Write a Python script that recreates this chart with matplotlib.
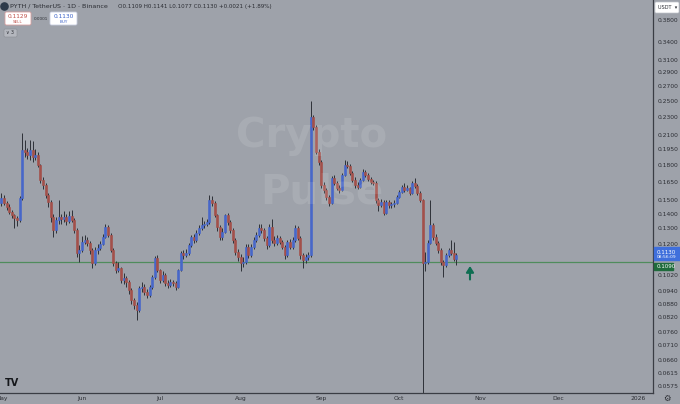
import matplotlib
matplotlib.use("Agg")
import matplotlib.pyplot as plt
from matplotlib.patches import FancyBboxPatch, Rectangle
from matplotlib.transforms import blended_transform_factory
from matplotlib.ticker import NullLocator, FixedLocator, FixedFormatter

# ---------------- data (daily PYTH/USDT, day 0 = 1 May 2025) ----------------
first_open = 0.1480
closes = [
    0.1518, 0.1480, 0.1449, 0.1412, 0.1391, 0.1370, 0.1356, 0.1518, 0.1944, 0.1924,
    0.1895, 0.1944, 0.1875, 0.1895, 0.1800, 0.1666, 0.1623, 0.1542, 0.1487, 0.1377,
    0.1288, 0.1356, 0.1377, 0.1363, 0.1377, 0.1349, 0.1384, 0.1356, 0.1288, 0.1144,
    0.1161, 0.1210, 0.1223, 0.1204, 0.1161, 0.1086, 0.1161, 0.1173, 0.1198, 0.1242,
    0.1308, 0.1255, 0.1161, 0.1086, 0.1047, 0.1058, 0.0995, 0.1005, 0.0985, 0.0945,
    0.0898, 0.0875, 0.0852, 0.0955, 0.0960, 0.0935, 0.0921, 0.0960, 0.1010, 0.1114,
    0.1047, 0.0995, 0.1021, 0.0980, 0.0970, 0.0985, 0.0980, 0.0960, 0.1047, 0.1144,
    0.1132, 0.1144, 0.1192, 0.1242, 0.1223, 0.1268, 0.1301, 0.1321, 0.1328, 0.1342,
    0.1503, 0.1480, 0.1391, 0.1308, 0.1242, 0.1275, 0.1391, 0.1342, 0.1288, 0.1223,
    0.1150, 0.1120, 0.1086, 0.1092, 0.1180, 0.1132, 0.1180, 0.1223, 0.1255, 0.1301,
    0.1288, 0.1236, 0.1192, 0.1308, 0.1223, 0.1204, 0.1236, 0.1210, 0.1180, 0.1132,
    0.1210, 0.1180, 0.1223, 0.1301, 0.1236, 0.1132, 0.1103, 0.1120, 0.1132, 0.2306,
    0.2190, 0.1924, 0.1828, 0.1623, 0.1582, 0.1526, 0.1480, 0.1683, 0.1640, 0.1598,
    0.1582, 0.1709, 0.1800, 0.1791, 0.1727, 0.1666, 0.1623, 0.1607, 0.1666, 0.1736,
    0.1709, 0.1674, 0.1649, 0.1640, 0.1503, 0.1464, 0.1487, 0.1405, 0.1487, 0.1464,
    0.1470, 0.1480, 0.1526, 0.1566, 0.1607, 0.1582, 0.1598, 0.1558, 0.1640, 0.1615,
    0.1558, 0.1503, 0.1086, 0.1092, 0.1204, 0.1321, 0.1242, 0.1204, 0.1161, 0.1092,
    0.1075, 0.1132, 0.1161, 0.1144, 0.1109, 0.1130,
]
highs = [
    0.1560, 0.1545, 0.1495, 0.1470, 0.1425, 0.1400, 0.1385, 0.1530, 0.2120, 0.2050,
    0.1960, 0.2050, 0.2040, 0.1950, 0.1920, 0.1810, 0.1690, 0.1640, 0.1560, 0.1500,
    0.1395, 0.1380, 0.1500, 0.1400, 0.1420, 0.1395, 0.1420, 0.1430, 0.1370, 0.1300,
    0.1190, 0.1250, 0.1255, 0.1240, 0.1215, 0.1175, 0.1180, 0.1200, 0.1215, 0.1260,
    0.1330, 0.1320, 0.1265, 0.1175, 0.1100, 0.1090, 0.1065, 0.1030, 0.1015, 0.0995,
    0.0955, 0.0905, 0.0890, 0.0965, 0.0985, 0.0975, 0.0950, 0.0970, 0.1020, 0.1125,
    0.1130, 0.1055, 0.1040, 0.1030, 0.0995, 0.1000, 0.0995, 0.0990, 0.1055, 0.1155,
    0.1160, 0.1165, 0.1205, 0.1255, 0.1260, 0.1285, 0.1320, 0.1380, 0.1345, 0.1360,
    0.1545, 0.1530, 0.1495, 0.1400, 0.1320, 0.1300, 0.1400, 0.1405, 0.1355, 0.1300,
    0.1235, 0.1165, 0.1135, 0.1120, 0.1195, 0.1200, 0.1195, 0.1240, 0.1275, 0.1325,
    0.1330, 0.1300, 0.1250, 0.1330, 0.1360, 0.1245, 0.1255, 0.1250, 0.1225, 0.1190,
    0.1225, 0.1230, 0.1240, 0.1320, 0.1315, 0.1250, 0.1145, 0.1140, 0.1150, 0.2500,
    0.2330, 0.2210, 0.1950, 0.1850, 0.1650, 0.1600, 0.1545, 0.1700, 0.1710, 0.1660,
    0.1620, 0.1730, 0.1850, 0.1840, 0.1810, 0.1745, 0.1690, 0.1650, 0.1680, 0.1760,
    0.1750, 0.1725, 0.1690, 0.1670, 0.1655, 0.1520, 0.1510, 0.1500, 0.1500, 0.1505,
    0.1490, 0.1500, 0.1540, 0.1580, 0.1625, 0.1640, 0.1620, 0.1610, 0.1660, 0.1680,
    0.1630, 0.1570, 0.1510, 0.1150, 0.1220, 0.1500, 0.1335, 0.1260, 0.1215, 0.1175,
    0.1105, 0.1145, 0.1175, 0.1220, 0.1210, 0.1141,
]
lows = [
    0.1460, 0.1465, 0.1430, 0.1395, 0.1370, 0.1300, 0.1315, 0.1340, 0.1505, 0.1880,
    0.1860, 0.1850, 0.1830, 0.1850, 0.1780, 0.1640, 0.1590, 0.1520, 0.1450, 0.1340,
    0.1240, 0.1270, 0.1330, 0.1330, 0.1340, 0.1320, 0.1335, 0.1340, 0.1270, 0.1120,
    0.1090, 0.1150, 0.1195, 0.1185, 0.1140, 0.1060, 0.1075, 0.1140, 0.1160, 0.1190,
    0.1235, 0.1240, 0.1150, 0.1070, 0.1030, 0.1035, 0.0980, 0.0975, 0.0960, 0.0925,
    0.0880, 0.0855, 0.0810, 0.0845, 0.0935, 0.0920, 0.0905, 0.0910, 0.0950, 0.1000,
    0.1035, 0.0980, 0.0985, 0.0965, 0.0955, 0.0960, 0.0965, 0.0945, 0.0955, 0.1040,
    0.1110, 0.1120, 0.1130, 0.1180, 0.1205, 0.1210, 0.1255, 0.1290, 0.1300, 0.1315,
    0.1330, 0.1455, 0.1375, 0.1280, 0.1220, 0.1225, 0.1265, 0.1320, 0.1270, 0.1205,
    0.1130, 0.1095, 0.1040, 0.1065, 0.1080, 0.1115, 0.1120, 0.1165, 0.1210, 0.1240,
    0.1270, 0.1215, 0.1170, 0.1180, 0.1205, 0.1185, 0.1190, 0.1195, 0.1165, 0.1110,
    0.1120, 0.1165, 0.1170, 0.1210, 0.1220, 0.1110, 0.1060, 0.1085, 0.1105, 0.1120,
    0.2150, 0.1900, 0.1800, 0.1600, 0.1560, 0.1500, 0.1455, 0.1470, 0.1620, 0.1580,
    0.1560, 0.1570, 0.1700, 0.1770, 0.1710, 0.1650, 0.1600, 0.1590, 0.1595, 0.1655,
    0.1690, 0.1655, 0.1630, 0.1620, 0.1480, 0.1420, 0.1450, 0.1390, 0.1395, 0.1445,
    0.1445, 0.1450, 0.1470, 0.1515, 0.1555, 0.1565, 0.1570, 0.1540, 0.1550, 0.1600,
    0.1540, 0.1490, 0.0450, 0.1040, 0.1080, 0.1195, 0.1225, 0.1190, 0.1145, 0.1075,
    0.1010, 0.1065, 0.1120, 0.1130, 0.1095, 0.1077,
]
opens = [first_open] + closes[:-1]
days = list(range(len(closes)))

month_days = [0, 31, 61, 92, 123, 153, 184, 214, 245]
month_labels = ["May", "Jun", "Jul", "Aug", "Sep", "Oct", "Nov", "Dec", "2026"]

price_ticks = [0.3800, 0.3400, 0.3100, 0.2900, 0.2700, 0.2500, 0.2300, 0.2100,
               0.1950, 0.1800, 0.1650, 0.1500, 0.1400, 0.1300, 0.1200, 0.1020,
               0.0940, 0.0880, 0.0820, 0.0760, 0.0710, 0.0660, 0.0615, 0.0575]
support_level = 0.1090
last_price = 0.1130

# ---------------- style ----------------
BG = "#9ea2aa"
UP = "#4767c9"
DOWN = "#a3504a"
WICK = "#2e3138"
AXC = "#3a3d44"
TXT = "#2b2d33"

fig = plt.figure(figsize=(6.8, 4.04), dpi=100)
fig.patch.set_facecolor(BG)
ax = fig.add_axes([0, 11 / 404, 653 / 680, 393 / 404])
ax.set_facecolor(BG)
ax.set_yscale("log")
ax.set_xlim(-0.54, 250.6)
ax.set_ylim(0.05556, 0.4213)

for s in ["top", "left"]:
    ax.spines[s].set_visible(False)
ax.spines["right"].set_color(AXC)
ax.spines["right"].set_linewidth(0.9)
ax.spines["bottom"].set_color(AXC)
ax.spines["bottom"].set_linewidth(0.9)

ax.yaxis.tick_right()
ax.yaxis.set_major_locator(FixedLocator(price_ticks))
ax.yaxis.set_major_formatter(FixedFormatter([f"{v:.4f}" for v in price_ticks]))
ax.yaxis.set_minor_locator(NullLocator())
ax.tick_params(axis="y", length=0, pad=3.5, labelsize=4.3, labelcolor=TXT)
ax.set_xticks(month_days)
ax.set_xticklabels(month_labels)
ax.tick_params(axis="x", length=0, pad=2.5, labelsize=4.3, labelcolor=TXT)

# support line
ax.axhline(support_level, color="#4f8c5c", lw=0.9, zorder=1)

# candles
for d, o, h, l, c in zip(days, opens, highs, lows, closes):
    col = UP if c >= o else DOWN
    ax.vlines(d, l, h, color=WICK, lw=0.7, zorder=2)
    lo, hi = min(o, c), max(o, c)
    if hi / lo < 1.005:
        hi = lo * 1.005
    ax.bar(d, hi - lo, bottom=lo, width=0.78, color=col, edgecolor=col,
           linewidth=0.45, zorder=3)

# price labels on the right axis
tr = blended_transform_factory(ax.transAxes, ax.transData)
ax.add_patch(Rectangle((1.0015, last_price * 0.978), 0.043, last_price * 0.0645,
                       transform=tr, color="#3f6fdc", clip_on=False, zorder=5))
ax.text(1.006, last_price * 1.012, f"{last_price:.4f}", transform=tr, fontsize=4.0,
        color="white", va="center", ha="left", clip_on=False, zorder=6)
ax.text(1.006, last_price * 0.99, "08:56:09", transform=tr, fontsize=3.2,
        color="white", va="center", ha="left", clip_on=False, zorder=6)
ax.add_patch(Rectangle((1.0015, support_level * 0.963), 0.029, support_level * 0.035,
                       transform=tr, color="#1f6b3c", clip_on=False, zorder=5))
ax.text(1.006, support_level * 0.98, f"{support_level:.4f}", transform=tr, fontsize=4.0,
        color="white", va="center", ha="left", clip_on=False, zorder=6)

# ---------------- overlay (pixel coordinates) ----------------
ov = fig.add_axes([0, 0, 1, 1], zorder=10)
ov.set_xlim(0, 680)
ov.set_ylim(404, 0)
ov.axis("off")
ov.patch.set_alpha(0)

# watermark
ov.text(312, 136, "Crypto", fontsize=29, fontweight="bold", color="white",
        alpha=0.11, ha="center", va="center")
ov.text(322, 192, "Pulse", fontsize=29, fontweight="bold", color="white",
        alpha=0.11, ha="center", va="center")

# header
ov.add_patch(plt.Circle((4.5, 6.5), 3.6, color="#2d3a4a"))
ov.text(9.5, 6.5, "PYTH / TetherUS · 1D · Binance", fontsize=4.6, color=TXT,
        va="center", ha="left")
ov.text(118, 6.5, "O0.1109 H0.1141 L0.1077 C0.1130 +0.0021 (+1.89%)", fontsize=4.1,
        color=TXT, va="center", ha="left")
ov.add_patch(FancyBboxPatch((5, 12), 26, 13, boxstyle="round,pad=0,rounding_size=1.5",
                            fc="white", ec="#d9a0a0", lw=0.6))
ov.text(18, 16.5, "0.1129", fontsize=4.2, color="#c0504a", ha="center", va="center")
ov.text(18, 22, "SELL", fontsize=3.0, color="#c0504a", ha="center", va="center")
ov.text(40.5, 19, "0.0001", fontsize=3.0, color=TXT, ha="center", va="center")
ov.add_patch(FancyBboxPatch((50, 12), 27, 13, boxstyle="round,pad=0,rounding_size=1.5",
                            fc="white", ec="#c8cde0", lw=0.6))
ov.text(63.5, 16.5, "0.1130", fontsize=4.2, color="#3b62c8", ha="center", va="center")
ov.text(63.5, 22, "BUY", fontsize=3.0, color="#3b62c8", ha="center", va="center")
ov.add_patch(FancyBboxPatch((4, 29), 13, 8, boxstyle="round,pad=0,rounding_size=1.2",
                            fc="#b4b7be", ec="#8a8d94", lw=0.4))
ov.text(10.5, 33, "∨ 3", fontsize=3.4, color=TXT, ha="center", va="center")

# USDT box
ov.add_patch(FancyBboxPatch((655, 2), 24, 11, boxstyle="round,pad=0,rounding_size=1.2",
                            fc="white", ec="#c0c3ca", lw=0.5))
ov.text(658, 7.5, "USDT  ▾", fontsize=3.6, color=TXT, ha="left", va="center")

# gear icon & TV logo
ov.text(667, 398.5, "⚙", fontsize=6, color=TXT, ha="center", va="center")
ov.text(12, 383, "TV", fontsize=7, fontweight="bold", color="#15171b",
        ha="center", va="center")

# green arrow
ov.annotate("", xy=(470, 266), xytext=(470, 279.5),
            arrowprops=dict(arrowstyle="-|>,head_width=0.22,head_length=0.35",
                            color="#0f6e52", lw=1.5, shrinkA=0, shrinkB=0))

fig.savefig("out.png", dpi=100, facecolor=BG)
